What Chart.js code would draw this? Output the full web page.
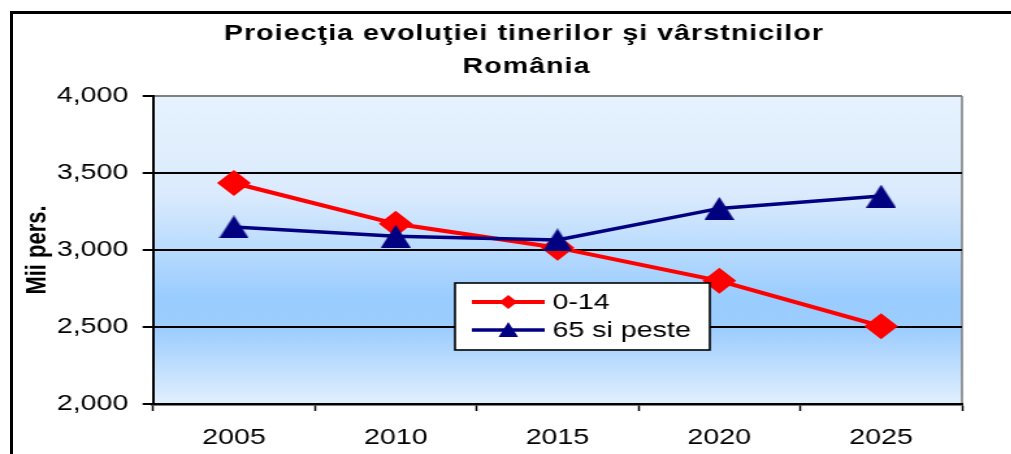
<!DOCTYPE html>
<html>
<head>
<meta charset="utf-8">
<script src="https://cdn.jsdelivr.net/npm/chart.js@4"></script>
<style>
html, body { margin: 0; padding: 0; background: #fff; overflow: hidden; width: 1011px; height: 454px; }
/* the original picture is stretched sideways, so the canvas is too */
#wrap { position: absolute; left: 0; top: 0; width: 778px; height: 454px; transform: scaleX(1.3); transform-origin: 0 0; }
#frame { position: absolute; left: 10px; top: 11px; width: 1100px; height: 600px; border: 3px solid #000; pointer-events: none; }
</style>
</head>
<body>
<div id="wrap"><canvas id="chart" width="778" height="454"></canvas></div>
<div id="frame"></div>
<script>
const years = ['2005', '2010', '2015', '2020', '2025'];
const youngValues = [3435, 3170, 3015, 2800, 2505];   // 0-14
const elderlyValues = [3150, 3090, 3065, 3270, 3350]; // 65 si peste
const seriesNames = ['0-14', '65 si peste'];
const titleLines = ['Proiecţia evoluţiei tinerilor şi vârstnicilor', 'România'];
const yAxisTitle = 'Mii pers.';
const yMin = 2000, yMax = 4000, yStep = 500;

const FONT = '"Liberation Sans", Arial, sans-serif';
const RED = '#ff0000';
const NAVY = '#000080';

// centred triangle marker (chart.js own triangle sits off-centre)
const tri = document.createElement('canvas');
tri.width = 23; tri.height = 23;
const tctx = tri.getContext('2d');
tctx.fillStyle = NAVY;
tctx.beginPath();
tctx.moveTo(11.5, 0); tctx.lineTo(23, 23); tctx.lineTo(0, 23);
tctx.closePath();
tctx.fill();

const plotBackground = {
    id: 'plotBackground',
    beforeDraw(chart) {
        const { ctx, chartArea: a } = chart;
        const g = ctx.createLinearGradient(0, a.top, 0, a.bottom);
        g.addColorStop(0, '#e6f2fe');
        g.addColorStop(0.32, '#dbebfd');
        g.addColorStop(0.66, '#99ccff');
        g.addColorStop(0.76, '#9dcdfe');
        g.addColorStop(1, '#e2f0fe');
        ctx.save();
        ctx.fillStyle = g;
        ctx.fillRect(a.left, a.top, a.right - a.left, a.bottom - a.top);
        ctx.strokeStyle = '#808080';
        ctx.lineWidth = 1.6;
        ctx.beginPath();
        ctx.moveTo(a.right, a.top);
        ctx.lineTo(a.right, a.bottom);
        ctx.stroke();
        ctx.restore();
    }
};

const titleText = {
    id: 'titleText',
    afterDraw(chart) {
        const ctx = chart.ctx;
        ctx.save();
        ctx.font = 'bold 22px ' + FONT;
        ctx.fillStyle = '#000';
        ctx.textAlign = 'center';
        ctx.textBaseline = 'alphabetic';
        ctx.letterSpacing = '0.8px';
        ctx.fillText(titleLines[0], 403, 40);
        ctx.fillText(titleLines[1], 405, 73);
        ctx.restore();
    }
};

const boxLegend = {
    id: 'boxLegend',
    afterDraw(chart) {
        const ctx = chart.ctx;
        const box = { x: 350, y: 283, w: 196, h: 67 };
        ctx.save();
        ctx.fillStyle = '#fff';
        ctx.fillRect(box.x, box.y, box.w, box.h);
        ctx.strokeStyle = '#000';
        ctx.lineWidth = 1.6;
        ctx.strokeRect(box.x, box.y, box.w, box.h);
        chart.data.datasets.forEach((ds, i) => {
            const y = 302 + i * 28;
            ctx.strokeStyle = ds.borderColor;
            ctx.lineWidth = ds.borderWidth;
            ctx.beginPath();
            ctx.moveTo(363, y);
            ctx.lineTo(419, y);
            ctx.stroke();
            ctx.fillStyle = ds.borderColor;
            ctx.beginPath();
            if (i === 0) {
                ctx.moveTo(391 - 7, y); ctx.lineTo(391, y - 7);
                ctx.lineTo(391 + 7, y); ctx.lineTo(391, y + 7);
            } else {
                ctx.moveTo(391, y - 8); ctx.lineTo(398.5, y + 7); ctx.lineTo(383.5, y + 7);
            }
            ctx.closePath();
            ctx.fill();
            ctx.fillStyle = '#000';
            ctx.font = '22px ' + FONT;
            ctx.textAlign = 'left';
            ctx.textBaseline = 'middle';
            ctx.fillText(ds.label, 425, y + 1);
        });
        ctx.restore();
    }
};

new Chart(document.getElementById('chart').getContext('2d'), {
    type: 'line',
    data: {
        labels: years,
        datasets: [
            {
                label: seriesNames[0], data: youngValues, order: 1,
                borderColor: RED, backgroundColor: RED, borderWidth: 4,
                pointStyle: 'rectRot', pointRadius: 13, pointBorderWidth: 0, tension: 0
            },
            {
                label: seriesNames[1], data: elderlyValues, order: 0,
                borderColor: NAVY, backgroundColor: NAVY, borderWidth: 3.5,
                pointStyle: tri, pointRadius: 12, tension: 0
            }
        ]
    },
    options: {
        responsive: false,
        animation: false,
        locale: 'en-US',
        layout: { padding: { top: 96, right: 38, left: 0, bottom: 0 } },
        plugins: { legend: { display: false }, title: { display: false }, tooltip: { enabled: false } },
        scales: {
            x: {
                offset: true,
                ticks: { color: '#000', font: { size: 22, family: FONT }, padding: 14 },
                grid: { offset: true, drawOnChartArea: false, tickLength: 7, tickColor: '#000', tickWidth: 1.5 },
                border: { color: '#000', width: 2.5 },
                afterFit(scale) { scale.height = 50; }
            },
            y: {
                min: yMin, max: yMax,
                ticks: { stepSize: yStep, color: '#000', font: { size: 22, family: FONT }, padding: 11 },
                grid: {
                    color: c => (c.tick && c.tick.value === yMax ? '#808080' : '#000'),
                    lineWidth: 2, tickLength: 8, tickColor: '#000', tickWidth: 2
                },
                border: { color: '#000', width: 2 },
                title: {
                    display: true, text: yAxisTitle, color: '#000',
                    font: { size: 22, weight: 'bold', family: FONT },
                    padding: { top: 16, bottom: 0 }
                },
                afterFit(scale) { scale.width = 117.7; }
            }
        }
    },
    plugins: [plotBackground, titleText, boxLegend]
});
</script>
</body>
</html>
